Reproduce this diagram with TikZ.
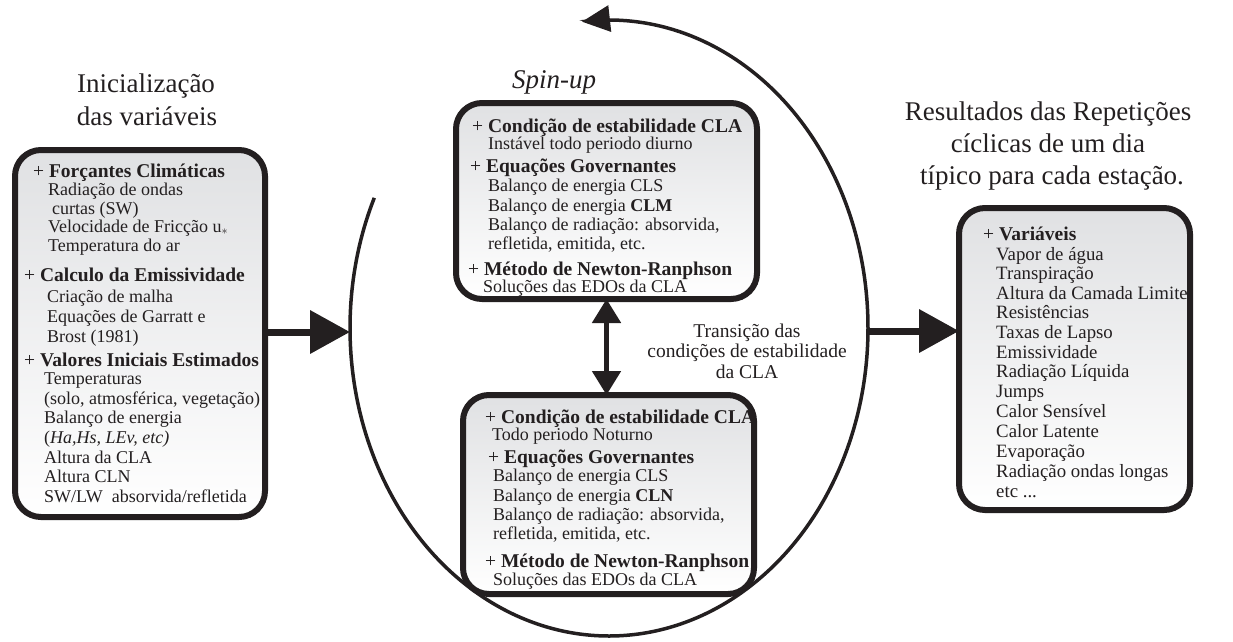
\documentclass[tikz,border=0pt]{standalone}
\usepackage{fontspec}
\setmainfont{Liberation Serif}
\usetikzlibrary{arrows.meta}
\definecolor{ink}{RGB}{35,31,32}
\definecolor{boxtop}{RGB}{224,225,227}
\tikzset{
  boxfill/.style={rectangle, rounded corners=26pt, inner sep=0pt, outer sep=0pt, top color=boxtop, bottom color=white, draw=none},
  boxline/.style={draw=ink, line width=6pt, rounded corners=26pt},
  hdr/.style={anchor=base west, inner sep=0pt, text=ink, font=\fontsize{19.5}{20}\selectfont},
  itm/.style={anchor=base west, inner sep=0pt, text=ink, font=\fontsize{18}{19.5}\selectfont},
  itmr/.style={anchor=base west, inner sep=0pt, text=ink, font=\fontsize{18.8}{19.5}\selectfont},
  ttl/.style={anchor=base, inner sep=0pt, text=ink, font=\fontsize{27}{31}\selectfont},
  bigarrow/.style={draw=ink, line width=7pt, -{Triangle[length=40pt,width=42pt]}},
  dblarrow/.style={draw=ink, line width=5pt, {Triangle[length=24pt,width=28pt]}-{Triangle[length=24pt,width=28pt]}},
  cycle/.style={draw=ink, line width=3.5pt, -{Triangle[length=28pt,width=26pt]}}
}
\begin{document}
\begin{tikzpicture}[x=1pt,y=-1pt]
\useasboundingbox (0,0) rectangle (1233,641);

% cycle ellipse
\draw[cycle] plot[domain=205:-96, samples=150, smooth] ({609+259*cos(\x)},{328+308*sin(\x)});
\coordinate (eL) at (350,332);
\coordinate (eR) at (868,331);

% titles
\node[ttl] (t1a) at (146,92) {Inicialização};
\node[ttl] (t1b) at (147,125) {das variáveis};
\node[ttl] (t2a) at (1048,120) {Resultados das Repetições};
\node[ttl] (t2b) at (1048,152) {cíclicas de um dia};
\node[ttl] (t2c) at (1052,184) {típico para cada estação.};
\node[ttl, anchor=base west, font=\fontsize{27}{31}\selectfont\itshape] (spin) at (512,88) {Spin-up};

% box fills
\node[boxfill, minimum width=250, minimum height=367] (L) at (140,333.5) {};
\node[boxfill, minimum width=301, minimum height=196] (T) at (606.5,201) {};
\node[boxfill, minimum width=291, minimum height=199] (B) at (608.5,494.5) {};
\node[boxfill, minimum width=231, minimum height=302] (R) at (1074.5,359) {};

% left box text
\node[hdr] (l1) at (33,177) {+ \textbf{Forçantes Climáticas}};
\node[itm] (l2) at (48,195) {Radiação de ondas};
\node[itm] (l3) at (52,214) {curtas (SW)};
\node[itm] (l4) at (48,232) {Velocidade de Fricção u$_*$};
\node[itm] (l5) at (48,251) {Temperatura do ar};
\node[hdr] (l6) at (24,281) {+ \textbf{Calculo da Emissividade}};
\node[itm] (l7) at (47,302) {Criação de malha};
\node[itm] (l8) at (47,322) {Equações de Garratt e};
\node[itm] (l9) at (47,342) {Brost (1981)};
\node[hdr] (l10) at (24,366) {+ \textbf{Valores Iniciais Estimados}};
\node[itm] (l11) at (44,384.5) {Temperaturas};
\node[itm] (l12) at (44,404) {(solo, atmosférica, vegetação)};
\node[itm] (l13) at (44,423.5) {Balanço de energia};
\node[itm] (l14) at (44,443) {(\textit{Ha,Hs, LEv, etc)}};
\node[itm] (l15) at (44,463) {Altura da CLA};
\node[itm] (l16) at (44,482.5) {Altura CLN};
\node[itm] (l17) at (44,502) {SW/LW\ \ absorvida/refletida};

% top center box text
\node[hdr] (a1) at (472,132) {+ \textbf{Condição de estabilidade CLA}};
\node[itm] (a2) at (488,149) {Instável todo periodo diurno};
\node[hdr] (a3) at (470,172) {+ \textbf{Equações Governantes}};
\node[itm] (a4) at (488,191) {Balanço de energia CLS};
\node[itm] (a5) at (488,211) {Balanço de energia \textbf{CLM}};
\node[itm] (a6) at (488,230.5) {Balanço de radiação: absorvida,};
\node[itm] (a7) at (488,249) {refletida, emitida, etc.};
\node[hdr] (a8) at (468,275) {+ \textbf{Método de Newton-Ranphson}};
\node[itm] (a9) at (483,292) {Soluções das EDOs da CLA};

% bottom center box text
\node[hdr] (b1) at (485,423) {+ \textbf{Condição de estabilidade CLA}};
\node[itm] (b2) at (492,440) {Todo periodo Noturno};
\node[hdr] (b3) at (488,463) {+ \textbf{Equações Governantes}};
\node[itm] (b4) at (493,481) {Balanço de energia CLS};
\node[itm] (b5) at (493,501) {Balanço de energia \textbf{CLN}};
\node[itm] (b6) at (493,520.5) {Balanço de radiação: absorvida,};
\node[itm] (b7) at (493,539) {refletida, emitida, etc.};
\node[hdr] (b8) at (485,567) {+ \textbf{Método de Newton-Ranphson}};
\node[itm] (b9) at (493,585) {Soluções das EDOs da CLA};

% right box text
\node[hdr] (r0) at (983,240) {+ \textbf{Variáveis}};
\node[itmr] (r1) at (996,260) {Vapor de água};
\node[itmr] (r2) at (996,279.5) {Transpiração};
\node[itmr] (r3) at (996,299) {Altura da Camada Limite};
\node[itmr] (r4) at (996,318.5) {Resistências};
\node[itmr] (r5) at (996,338) {Taxas de Lapso};
\node[itmr] (r6) at (996,358) {Emissividade};
\node[itmr] (r7) at (996,377.5) {Radiação Líquida};
\node[itmr] (r8) at (996,397) {Jumps};
\node[itmr] (r9) at (996,417) {Calor Sensível};
\node[itmr] (r10) at (996,437) {Calor Latente};
\node[itmr] (r11) at (996,457) {Evaporação};
\node[itmr] (r12) at (996,477) {Radiação ondas longas};
\node[itmr] (r13) at (996,497) {etc ...};

% box borders
\draw[boxline] (L.south west) rectangle (L.north east);
\draw[boxline] (T.south west) rectangle (T.north east);
\draw[boxline] (B.south west) rectangle (B.north east);
\draw[boxline] (R.south west) rectangle (R.north east);

% transition label
\node[align=center, inner sep=0pt, text=ink, font=\fontsize{19.5}{20.5}\selectfont] (tr) at (747,351) {Transição das\\condições de estabilidade\\da CLA};

% arrows
\draw[bigarrow] (L.east |- eL) -- (eL);
\draw[bigarrow] (eR) -- (eR -| R.west);
\draw[dblarrow] (T.south) -- (T.south |- B.north);
\end{tikzpicture}
\end{document}
